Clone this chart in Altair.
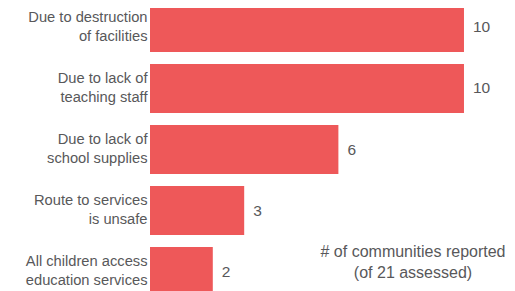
import altair as alt
import pandas as pd

categories = [
    "Due to destruction\nof facilities",
    "Due to lack of\nteaching staff",
    "Due to lack of\nschool supplies",
    "Route to services\nis unsafe",
    "All children access\neducation services",
]
values = [10, 10, 6, 3, 2]
annotation = "# of communities reported\n(of 21 assessed)"

RED = "#EE5859"
GREY = "#58585A"
FONT = "Liberation Sans"

df = pd.DataFrame({"category": categories, "value": values})

x_enc = alt.X("value:Q", axis=None,
              scale=alt.Scale(domain=[0, 11.37], nice=False, zero=True))
y_enc = alt.Y("category:N", sort=categories, title=None,
              scale=alt.Scale(paddingInner=0.197, paddingOuter=0),
              axis=alt.Axis(domain=False, ticks=False, tickSize=0, grid=False,
                            labelPadding=3, labelFontSize=14.7, labelColor=GREY,
                            labelFont=FONT, labelLimit=0, labelLineHeight=18.4,
                            labelOffset=-9.2,
                            minExtent=142, maxExtent=142,
                            labelExpr="split(datum.label, '\\n')"))

base = alt.Chart(df)
bars = base.mark_bar(color=RED).encode(x=x_enc, y=y_enc)
labels = base.mark_text(align="left", baseline="middle", dx=9,
                        fontSize=15.5, font=FONT, color=GREY).encode(
    x=alt.X("value:Q"), y=alt.Y("category:N", sort=categories), text="value:Q")

ann = alt.Chart(pd.DataFrame({"t": [annotation]})).mark_text(
    align="center", baseline="middle", fontSize=16, font=FONT, color=GREY,
    lineBreak="\n", lineHeight=21).encode(
    x=alt.value(263), y=alt.value(248.7), text="t:N")

chart = alt.layer(bars, labels, ann).properties(
    width=357, height=293,
    padding={"left": 0, "top": -5, "right": 0, "bottom": 0},
).configure_view(stroke=None)

chart.save("out.html", embed_options={"renderer": "svg", "actions": False})
